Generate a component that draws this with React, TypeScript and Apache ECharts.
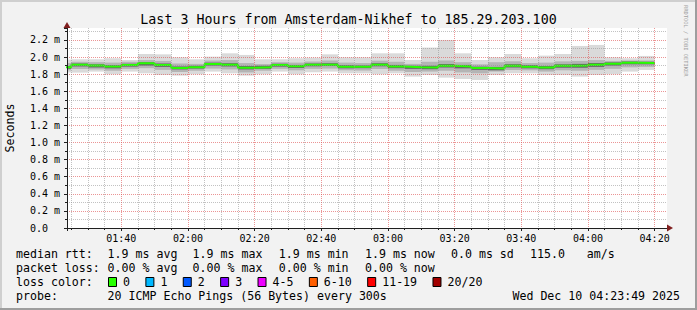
import React, { useEffect, useRef } from 'react';
import * as echarts from 'echarts';

// ---- data ----
const chartTitle = 'Last 3 Hours from Amsterdam-Nikhef to 185.29.203.100';
const windowStart = '01:23:43';
const windowEnd = '04:23:43';
const slotMinutes = 5;

const slotStarts = [
  '01:20', '01:25', '01:30', '01:35', '01:40', '01:45', '01:50', '01:55',
  '02:00', '02:05', '02:10', '02:15', '02:20', '02:25', '02:30', '02:35',
  '02:40', '02:45', '02:50', '02:55', '03:00', '03:05', '03:10', '03:15',
  '03:20', '03:25', '03:30', '03:35', '03:40', '03:45', '03:50', '03:55',
  '04:00', '04:05', '04:10', '04:15',
];

// round-trip times in ms
const rttMedian = [1.880, 1.910, 1.900, 1.890, 1.907, 1.927, 1.906, 1.872, 1.882, 1.919, 1.910, 1.876, 1.882, 1.906, 1.892, 1.910, 1.911, 1.888, 1.888, 1.911, 1.890, 1.882, 1.878, 1.898, 1.890, 1.872, 1.865, 1.898, 1.888, 1.878, 1.898, 1.900, 1.910, 1.921, 1.933, 1.931];
const rttMax = [1.970, 1.974, 1.974, 1.986, 1.966, 2.036, 2.032, 1.997, 1.974, 2.005, 2.044, 2.025, 1.974, 1.974, 1.986, 1.993, 2.032, 1.997, 1.997, 2.044, 2.044, 1.966, 2.111, 2.200, 2.044, 1.966, 1.997, 2.036, 1.986, 2.017, 2.036, 2.130, 2.142, 1.997, 1.986, 2.013];
const rttMin = [1.820, 1.818, 1.830, 1.798, 1.830, 1.810, 1.790, 1.783, 1.798, 1.830, 1.810, 1.783, 1.798, 1.830, 1.798, 1.822, 1.830, 1.810, 1.810, 1.798, 1.810, 1.771, 1.790, 1.759, 1.743, 1.732, 1.790, 1.810, 1.810, 1.790, 1.790, 1.771, 1.790, 1.798, 1.830, 1.849];
const rttHi = [1.930, 1.945, 1.940, 1.935, 1.945, 1.965, 1.955, 1.925, 1.920, 1.960, 1.965, 1.930, 1.918, 1.940, 1.935, 1.948, 1.960, 1.935, 1.930, 1.958, 1.945, 1.920, 1.945, 1.960, 1.940, 1.915, 1.940, 1.950, 1.930, 1.935, 1.950, 1.955, 1.965, 1.955, 1.960, 1.960];
const rttLo = [1.845, 1.860, 1.855, 1.840, 1.862, 1.870, 1.850, 1.825, 1.840, 1.865, 1.855, 1.820, 1.840, 1.862, 1.845, 1.862, 1.865, 1.845, 1.842, 1.860, 1.840, 1.825, 1.830, 1.840, 1.820, 1.810, 1.830, 1.850, 1.845, 1.830, 1.845, 1.840, 1.850, 1.862, 1.880, 1.885];
const rttCoreHi = [1.895, 1.925, 1.915, 1.905, 1.922, 1.940, 1.925, 1.890, 1.898, 1.935, 1.928, 1.895, 1.898, 1.922, 1.908, 1.925, 1.928, 1.905, 1.902, 1.928, 1.908, 1.898, 1.898, 1.918, 1.908, 1.888, 1.885, 1.915, 1.905, 1.895, 1.915, 1.920, 1.930, 1.938, 1.948, 1.945];
const rttCoreLo = [1.862, 1.890, 1.878, 1.868, 1.888, 1.900, 1.885, 1.855, 1.865, 1.900, 1.890, 1.855, 1.862, 1.888, 1.872, 1.892, 1.895, 1.868, 1.870, 1.892, 1.870, 1.862, 1.858, 1.878, 1.868, 1.850, 1.845, 1.878, 1.868, 1.858, 1.875, 1.875, 1.885, 1.900, 1.915, 1.915];

const yMax = 2.34;
const yMajor = 0.2;

const rttStats = ['1.9 ms avg', '1.9 ms max', '1.9 ms min', '1.9 ms now', '0.0 ms sd', '115.0', 'am/s'];
const lossStats = ['0.00 % avg', '0.00 % max', '0.00 % min', '0.00 % now'];
const lossLabels = ['0', '1', '2', '3', '4-5', '6-10', '11-19', '20/20'];
const lossColors = ['#26ff00', '#00b8ff', '#0059ff', '#7e00ff', '#ee00ff', '#ff5e00', '#ff0000', '#a10000'];
const probeText = '20 ICMP Echo Pings (56 Bytes) every 300s';
const stampText = 'Wed Dec 10 04:23:49 2025';

// ---- layout constants ----
const MONO = '"DejaVu Sans Mono", monospace';
const GL = 67, GT = 28, GR = 30, GB = 82;
const W = 697, H = 310;
const statX = [107.6, 192.6, 278.8, 365, 451, 530, 586.7];

const toMin = (s: string) => {
  const p = s.split(':').map(Number);
  return p[0] * 60 + p[1] + (p[2] || 0) / 60;
};
const fmtTime = (v: number) => {
  const h = Math.floor(v / 60);
  const m = Math.round(v - h * 60);
  return String(h).padStart(2, '0') + ':' + String(m).padStart(2, '0');
};

export default function App() {
  const ref = useRef<HTMLDivElement>(null);
  useEffect(() => {
    if (!ref.current) return;
    const chart = echarts.init(ref.current, null, { renderer: 'svg' });

    const n = slotStarts.length;
    const smoke: number[][] = [];
    const medianPts: number[][] = [];
    for (let i = 0; i < n; i++) {
      const t0 = toMin(slotStarts[i]);
      const t1 = t0 + slotMinutes;
      smoke.push([t0, t1, rttMin[i], rttLo[i], rttCoreLo[i], rttCoreHi[i], rttHi[i], rttMax[i]]);
      medianPts.push([t0, rttMedian[i]]);
      if (i === n - 1) medianPts.push([t1, rttMedian[i]]);
    }

    const layers: [number, number, string][] = [
      [2, 7, '#dadada'],
      [3, 6, '#b4b4b4'],
      [4, 5, '#666666'],
    ];

    const renderItem = (params: any, api: any) => {
      const cs = params.coordSys;
      const clip = { x: cs.x, y: cs.y, width: cs.width, height: cs.height };
      const children: any[] = [];
      for (const [lo, hi, color] of layers) {
        const p0 = api.coord([api.value(0), api.value(hi)]);
        const p1 = api.coord([api.value(1), api.value(lo)]);
        const r = echarts.graphic.clipRectByRect(
          { x: p0[0], y: p0[1], width: p1[0] - p0[0], height: p1[1] - p0[1] },
          clip
        );
        if (r) children.push({ type: 'rect', shape: r, style: { fill: color } });
      }
      return { type: 'group', children };
    };

    const gridMajor = { color: 'rgba(222,79,79,0.6)', type: [1, 1], width: 1 };
    const gridMinor = { color: 'rgba(143,143,143,0.55)', type: [1, 1], width: 1 };
    const axisCol = '#1f1f1f';

    const graphic: any[] = [];
    graphic.push({ type: 'rect', shape: { x: 0, y: 0, width: W, height: 2 }, style: { fill: '#cfcfcf' } });
    graphic.push({ type: 'rect', shape: { x: 0, y: 0, width: 2, height: H }, style: { fill: '#cfcfcf' } });
    graphic.push({ type: 'rect', shape: { x: 0, y: H - 2, width: W, height: 2 }, style: { fill: '#9e9e9e' } });
    graphic.push({ type: 'rect', shape: { x: W - 2, y: 0, width: 2, height: H }, style: { fill: '#9e9e9e' } });
    const xr = W - GR;
    const yb = H - GB;
    graphic.push({ type: 'polygon', z: 10, shape: { points: [[xr, yb - 3.5], [xr, yb + 3.5], [xr + 6, yb]] }, style: { fill: '#801f1f' } });
    graphic.push({ type: 'polygon', z: 10, shape: { points: [[GL - 3.5, GT], [GL + 3.5, GT], [GL, GT - 6]] }, style: { fill: '#801f1f' } });
    graphic.push({ type: 'text', x: 10, y: GT + (H - GT - GB) / 2, rotation: Math.PI / 2,
      style: { text: 'Seconds', font: '11.6px ' + MONO, fill: '#000', align: 'center', verticalAlign: 'middle' } });
    graphic.push({ type: 'text', x: 686, y: 5, rotation: -Math.PI / 2,
      style: { text: 'RRDTOOL / TOBI OETIKER', font: '5.4px ' + MONO, fill: '#a0a0a0', align: 'left', verticalAlign: 'middle' } });

    const legendFont = '11.6px ' + MONO;
    const addText = (text: string, x: number, y: number, align = 'left') =>
      graphic.push({ type: 'text', x, y, style: { text, font: legendFont, fill: '#000', align, verticalAlign: 'middle' } });

    const rowY = [254, 268, 282, 296];
    addText('median rtt:', 16, rowY[0]);
    rttStats.forEach((s, i) => addText(s, statX[i], rowY[0]));
    addText('packet loss:', 16, rowY[1]);
    lossStats.forEach((s, i) => addText(s, statX[i], rowY[1]));
    addText('loss color:', 16, rowY[2]);
    let bx = 108;
    const cw = 6.98;
    lossLabels.forEach((lab, i) => {
      graphic.push({ type: 'rect', shape: { x: bx + 0.5, y: rowY[2] - 4.5, width: 8, height: 9 },
        style: { fill: lossColors[i], stroke: '#000', lineWidth: 1 } });
      addText(lab, bx + 15, rowY[2]);
      bx = bx + 15 + lab.length * cw + 15.4;
    });
    addText('probe:', 16, rowY[3]);
    addText(probeText, statX[0], rowY[3]);
    addText(stampText, 680, rowY[3], 'right');

    const option: any = {
      animation: false,
      backgroundColor: '#f2f2f2',
      title: {
        text: chartTitle,
        left: 'center',
        top: 12.5,
        padding: 0,
        textStyle: { fontFamily: MONO, fontSize: 13.3, fontWeight: 'normal', color: '#000' },
      },
      grid: { left: GL, right: GR, top: GT, bottom: GB, show: true, backgroundColor: '#ffffff', borderWidth: 0 },
      xAxis: {
        type: 'value',
        min: toMin(windowStart),
        max: toMin(windowEnd),
        splitNumber: 9,
        minInterval: 20,
        maxInterval: 20,
        z: 5,
        axisLine: { show: true, onZero: false, lineStyle: { color: axisCol, width: 1 } },
        axisTick: { show: true, length: 3, lineStyle: { color: axisCol } },
        minorTick: { show: true, splitNumber: 4, length: 2, lineStyle: { color: axisCol } },
        axisLabel: {
          margin: 5,
          fontFamily: MONO,
          fontSize: 10,
          color: '#000',
          formatter: (v: number) => (Math.abs(v / 20 - Math.round(v / 20)) < 1e-6 ? fmtTime(v) : ''),
        },
        splitLine: { show: true, showMinLine: false, showMaxLine: false, lineStyle: gridMajor },
        minorSplitLine: { show: true, lineStyle: gridMinor },
      },
      yAxis: {
        type: 'value',
        min: 0,
        max: yMax,
        interval: yMajor,
        z: 5,
        axisLine: { show: true, onZero: false, lineStyle: { color: axisCol, width: 1 } },
        axisTick: { show: true, length: 3, lineStyle: { color: axisCol } },
        minorTick: { show: true, splitNumber: 2, length: 2, lineStyle: { color: axisCol } },
        axisLabel: {
          margin: 7,
          fontFamily: MONO,
          fontSize: 10,
          color: '#000',
          formatter: (v: number) => {
            if (Math.abs(v / yMajor - Math.round(v / yMajor)) > 1e-6) return '';
            if (Math.abs(v) < 1e-9) return '0.0\u00a0\u00a0';
            return v.toFixed(1) + ' m';
          },
        },
        splitLine: { show: true, showMinLine: false, showMaxLine: false, lineStyle: gridMajor },
        minorSplitLine: { show: true, lineStyle: gridMinor },
      },
      series: [
        {
          type: 'custom',
          renderItem,
          data: smoke,
          encode: { x: [0, 1], y: [2, 7] },
          z: 1,
          silent: true,
        },
        {
          type: 'line',
          data: medianPts,
          step: 'end',
          symbol: 'none',
          showSymbol: false,
          lineStyle: { color: lossColors[0], width: 2 },
          z: 2,
          clip: true,
          silent: true,
        },
      ],
      graphic,
    };

    chart.setOption(option);
    return () => chart.dispose();
  }, []);

  return <div ref={ref} style={{ position: 'absolute', left: 0, top: 0, width: W, height: H }} />;
}
